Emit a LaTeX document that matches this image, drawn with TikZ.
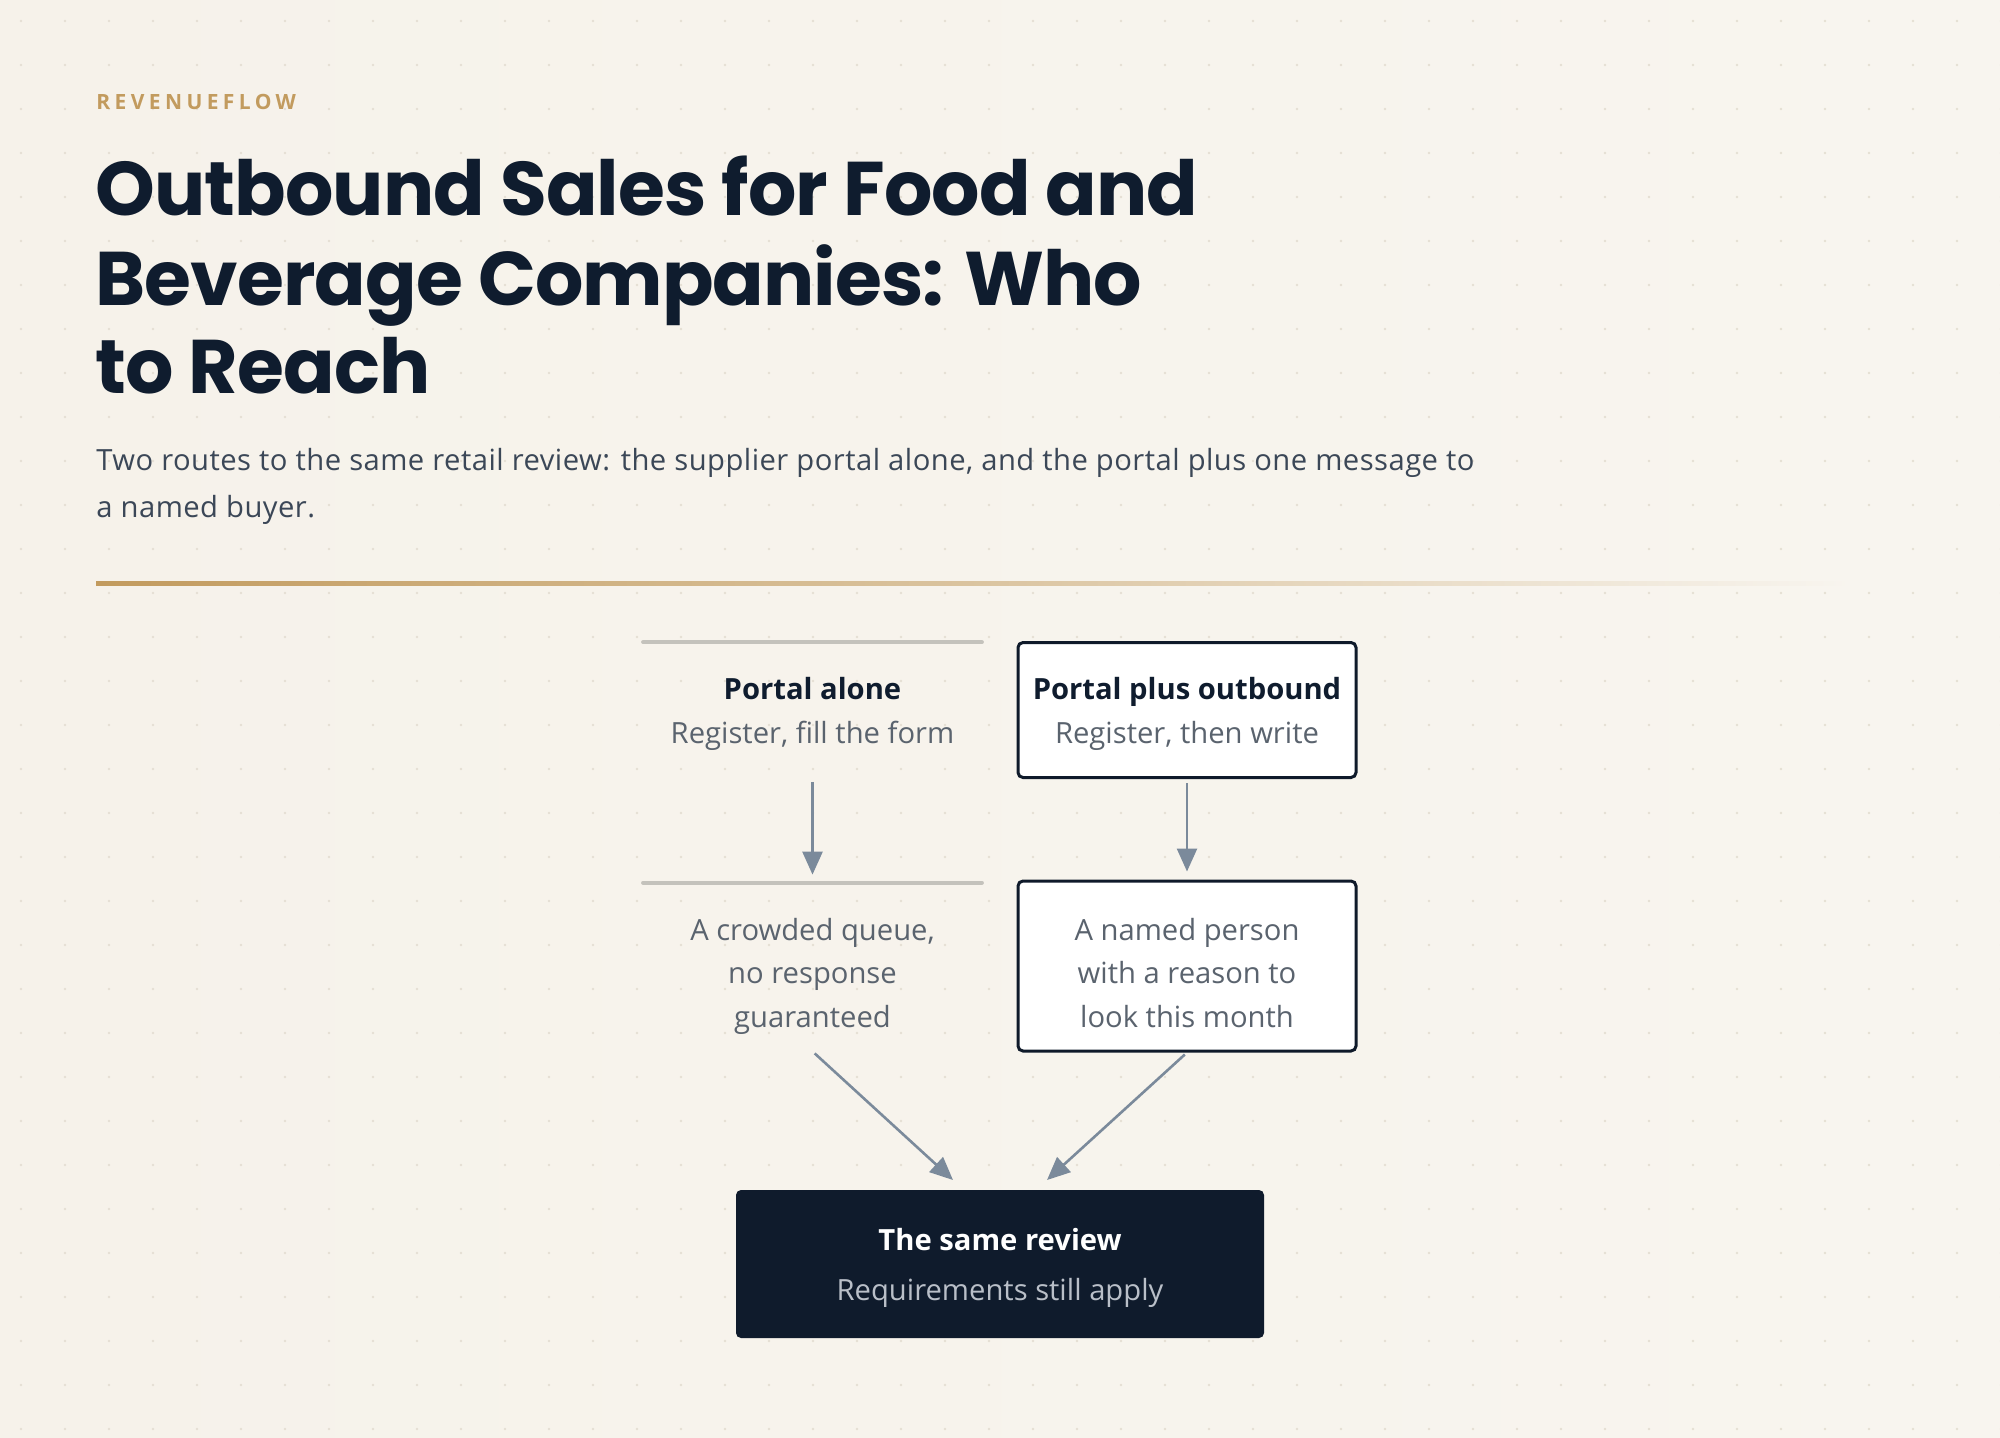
\documentclass[tikz,border=0pt]{standalone}
\usepackage{fontspec}
\setmainfont{Open Sans}
\newfontfamily\titlefont{Poppins}[LetterSpace=-1.2]
\newfontfamily\brandfont{Open Sans}[LetterSpace=21]
\newfontfamily\leadfont{Open Sans}[LetterSpace=1.6]
\usetikzlibrary{arrows.meta,calc}
\definecolor{bgc}{HTML}{F6F2EA}
\definecolor{bgr}{HTML}{F8F5EF}
\definecolor{dotc}{HTML}{E5DFD3}
\definecolor{goldc}{HTML}{C29B5E}
\definecolor{titlec}{HTML}{0F1C2E}
\definecolor{subc}{HTML}{3B4757}
\definecolor{rulec}{HTML}{C4C2BC}
\definecolor{arrowc}{HTML}{7B8A9B}
\definecolor{mutedc}{HTML}{5A636E}
\definecolor{boxc}{HTML}{0F1A2A}
\definecolor{darkc}{HTML}{0F1B2C}
\definecolor{lightc}{HTML}{B9BFC8}
\tikzset{
  txt/.style={inner sep=0pt, anchor=base},
  boxarea/.style={minimum width=169pt, inner sep=0pt},
  whitebox/.style={boxarea, draw=boxc, line width=1.5pt, fill=white, rounded corners=2.5pt},
  grayrule/.style={rulec, line width=2pt, line cap=round},
  flow/.style={arrowc, line width=1.3pt, -{Triangle[length=11.5pt,width=10pt]}},
  headf/.style={font=\fontsize{14.6}{17}\selectfont\bfseries, text=titlec},
  subf/.style={font=\fontsize{14.6}{17}\selectfont, text=mutedc},
  titlef/.style={txt, anchor=base west, text=titlec, font=\titlefont\fontsize{38}{46}\selectfont\bfseries},
  leadf/.style={txt, anchor=base west, text=subc, font=\leadfont\fontsize{14.6}{17}\selectfont},
}
\begin{document}
\begin{tikzpicture}[x=0.5pt,y=-0.5pt]
\useasboundingbox (0,0) rectangle (2000,1438);
\shade[left color=bgc, right color=bgr] (0,0) rectangle (2000,1438);
\foreach \i in {0,...,45} {\foreach \j in {0,...,32} {\fill[dotc] (21+44*\i,21+44*\j) circle (1.4);}}
% header
\node[txt, anchor=base west, text=goldc, font=\brandfont\fontsize{10.5}{12}\selectfont\bfseries] (brand) at (96,110) {REVENUEFLOW};
\node[titlef] (t1) at (95,216) {Outbound Sales for Food and};
\node[titlef] (t2) at (95,306) {Beverage Companies: Who};
\node[titlef] (t3) at (95,394) {to Reach};
\node[leadf] (s1) at (96,471) {Two routes to the same retail review: the supplier portal alone, and the portal plus one message to};
\node[leadf] (s2) at (96,517) {a named buyer.};
\shade[left color=goldc, right color=bgr, middle color=goldc!55!bgr] (96,581) rectangle (1850,585);
% left column
\node[boxarea, minimum height=67.5pt] (pa) at (812.5,710) {};
\draw[grayrule] (pa.north west) -- (pa.north east);
\node[txt, headf] (pat) at (812.5,699) {Portal alone};
\node[txt, subf] (pas) at (812.5,743) {Register, fill the form};
\node[boxarea, minimum height=84pt] (pq) at (812.5,967) {};
\draw[grayrule] (pq.north west) -- (pq.north east);
\node[txt, subf] (pq1) at (812.5,940) {A crowded queue,};
\node[txt, subf] (pq2) at (812.5,983) {no response};
\node[txt, subf] (pq3) at (812.5,1027) {guaranteed};
% right column
\node[whitebox, minimum height=67.5pt] (po) at (1187,710) {};
\node[txt, headf] (pot) at (1187,699) {Portal plus outbound};
\node[txt, subf] (pos) at (1187,743) {Register, then write};
\node[whitebox, minimum height=85pt] (pn) at (1187,966) {};
\node[txt, subf] (pn1) at (1187,940) {A named person};
\node[txt, subf] (pn2) at (1187,983) {with a reason to};
\node[txt, subf] (pn3) at (1187,1027) {look this month};
% review box
\node[minimum width=264pt, minimum height=74pt, fill=darkc, rounded corners=2.5pt, inner sep=0pt] (rv) at (1000,1264) {};
\node[txt, font=\fontsize{14.6}{17}\selectfont\bfseries, text=white] (rvt) at (1000,1250) {The same review};
\node[txt, font=\fontsize{14.6}{17}\selectfont, text=lightc] (rvs) at (1000,1300) {Requirements still apply};
\coordinate (rvl) at (953,1180);
\coordinate (rvr) at (1047,1180);
% arrows
\draw[flow, shorten <=2pt, shorten >=4pt] (pa.south) -- (pq.north);
\draw[flow, shorten <=2pt, shorten >=4pt] (po.south) -- (pn.north);
\draw[flow, shorten <=1.5pt] (pq.south) -- (rvl);
\draw[flow, shorten <=1.5pt] (pn.south) -- (rvr);
\end{tikzpicture}
\end{document}
